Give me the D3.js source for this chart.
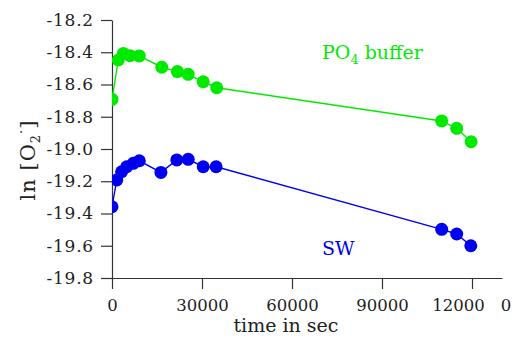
<!DOCTYPE html>
<html><head><meta charset="utf-8">
<script src="https://cdn.jsdelivr.net/npm/d3@7"></script>
<style>body{margin:0;background:#fff}svg{display:block}</style>
</head><body>
<svg id="c" width="512" height="340"></svg>
<script>
const po4Time = [0, 2100, 3800, 6000, 9100, 16600, 21800, 25400, 30400, 34900, 109900, 114900, 119700];
const po4Val  = [-18.692, -18.448, -18.407, -18.421, -18.423, -18.493, -18.52, -18.537, -18.583, -18.62, -18.826, -18.872, -18.955];
const swTime  = [0, 1600, 3200, 4900, 7100, 9100, 16300, 21600, 25400, 30400, 34700, 109900, 114900, 119600];
const swVal   = [-19.358, -19.192, -19.141, -19.11, -19.089, -19.073, -19.145, -19.068, -19.064, -19.11, -19.11, -19.498, -19.527, -19.6];
const xTicks = [0, 30000, 60000, 90000, 120000];
const xTickLabels = ["0", "30000", "60000", "90000", "12000"];
const yTicks = [-18.2, -18.4, -18.6, -18.8, -19.0, -19.2, -19.4, -19.6, -19.8];
const yTickLabels = ["-18.2", "-18.4", "-18.6", "-18.8", "-19.0", "-19.2", "-19.4", "-19.6", "-19.8"];

const green = "#00ea00", blue = "#0000ee";
const font = "'DejaVu Serif', serif";
const svg = d3.select("#c");
const x = d3.scaleLinear().domain([0, 130000]).range([112, 502]);
const y = d3.scaleLinear().domain([-18.2, -19.8]).range([20, 278]);

svg.append("defs").append("clipPath").attr("id", "clip")
  .append("rect").attr("x", 112).attr("y", 0).attr("width", 400).attr("height", 278);

const xa = svg.append("g").attr("transform", "translate(0,278)")
  .call(d3.axisBottom(x).tickValues(xTicks).tickSize(11).tickSizeOuter(0).tickPadding(6)
    .tickFormat((d, i) => xTickLabels[i]));
const ya = svg.append("g").attr("transform", "translate(112,0)")
  .call(d3.axisLeft(y).tickValues(yTicks).tickSize(11).tickSizeOuter(0).tickPadding(7)
    .tickFormat((d, i) => yTickLabels[i]));
[xa, ya].forEach(g => {
  g.selectAll("path,line").attr("stroke", "#333").attr("stroke-width", 1.2);
  g.selectAll("text").attr("font-family", font).attr("font-size", 16.5).attr("fill", "#222");
});
ya.selectAll("text").attr("font-size", 17).attr("letter-spacing", 0.8);
xa.selectAll("text").attr("dy", "0.95em").attr("dx", d => d === 120000 ? -14 : 0);
// stray trailing digit of the last tick label
svg.append("text").attr("x", x(131300)).attr("y", 278 + 17).attr("dy", "0.95em")
  .attr("text-anchor", "middle").attr("font-family", font).attr("font-size", 16.5).attr("fill", "#222").text("0");

const plot = svg.append("g").attr("clip-path", "url(#clip)");
function series(t, v, col) {
  const pts = t.map((d, i) => [d, v[i]]);
  plot.append("path").datum(pts)
    .attr("d", d3.line().x(d => x(d[0])).y(d => y(d[1])))
    .attr("fill", "none").attr("stroke", col).attr("stroke-width", 1.4);
  plot.selectAll(null).data(pts).enter().append("circle")
    .attr("cx", d => x(d[0])).attr("cy", d => y(d[1])).attr("r", 6.5).attr("fill", col);
}
series(po4Time, po4Val, green);
series(swTime, swVal, blue);

const po = svg.append("text").attr("x", 322).attr("y", 59).attr("font-family", font)
  .attr("font-size", 19).attr("fill", green);
po.append("tspan").text("PO");
po.append("tspan").attr("font-size", 13).attr("dy", 5).text("4");
po.append("tspan").attr("dy", -5).text(" buffer");

svg.append("text").attr("x", 322).attr("y", 255).attr("font-family", font)
  .attr("font-size", 19).attr("fill", blue).text("SW");

svg.append("text").attr("x", 286).attr("y", 332).attr("text-anchor", "middle")
  .attr("font-family", font).attr("font-size", 19).attr("fill", "#222").text("time in sec");

const yl = svg.append("text").attr("transform", "translate(35,160) rotate(-90)")
  .attr("text-anchor", "middle").attr("font-family", font).attr("font-size", 21)
  .attr("letter-spacing", 1).attr("fill", "#222");
yl.append("tspan").text("ln [O");
yl.append("tspan").attr("font-size", 13).attr("dy", 5).text("2");
yl.append("tspan").attr("font-size", 13).attr("dy", -14).text("·");
yl.append("tspan").attr("dy", 9).text("]");
</script>
</body></html>
